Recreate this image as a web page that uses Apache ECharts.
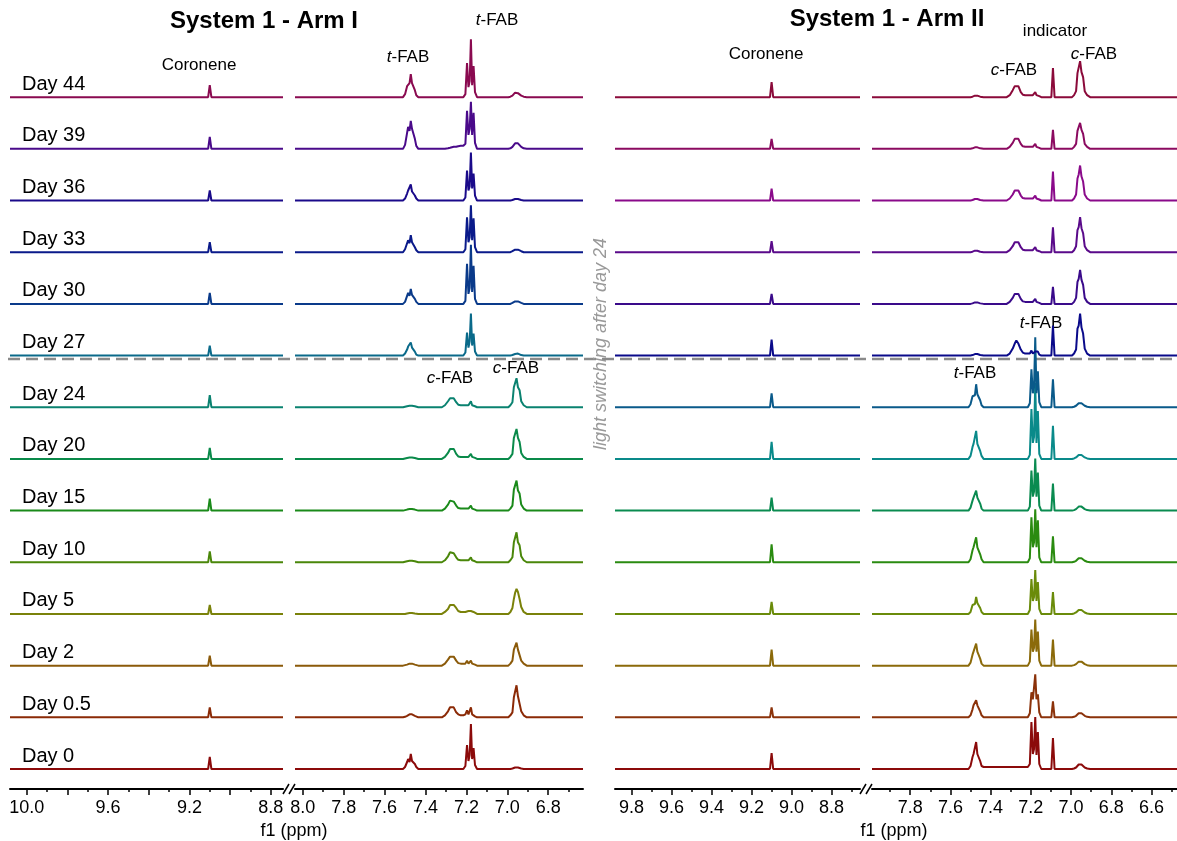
<!DOCTYPE html>
<html><head><meta charset="utf-8">
<script src="https://cdn.jsdelivr.net/npm/echarts@6/dist/echarts.min.js"></script>
<style>html,body{margin:0;padding:0;background:#fff}#c{width:1177px;height:841px}</style>
</head><body><div id="c"></div><script>
// ---------------- DATA ----------------
const DAYS = ['Day 0','Day 0.5','Day 2','Day 5','Day 10','Day 15','Day 20','Day 24','Day 27','Day 30','Day 33','Day 36','Day 39','Day 44'];

// chemical-shift grids (ppm) of each peak group
const CORONENE_PPM = [9.108, 9.100, 9.092];
const T_MULT_PPM = [7.51, 7.50, 7.49, 7.485, 7.478, 7.472, 7.466, 7.46, 7.452, 7.445, 7.435];
const MID_PPM = [7.32, 7.305, 7.29, 7.28, 7.272, 7.262, 7.25, 7.24, 7.228, 7.215, 7.205, 7.197, 7.19, 7.184, 7.178, 7.172, 7.165, 7.158, 7.148];
const INDICATOR_PPM = [7.098, 7.09, 7.082];
const C_FAB_PPM = [6.995, 6.985, 6.975, 6.968, 6.962, 6.955, 6.948, 6.94, 6.932, 6.92, 6.905];

// ---- Arm I intensities (rows follow DAYS) ----
const armI_coronene = [12,10,10,9,11,12,11,12,10,11,10,10,12,12];
const armI_tMult = [
 [0,2,7,10,7,15,8,10,5,2,0],
 [0,0.5,1.5,2.5,3,3.5,3,2.5,1.5,0.5,0],
 [0,0.5,1,1.5,2,2,2,1.5,1,0.5,0],
 [0,0,0.5,1,1,1,1,1,0.5,0,0],
 [0,0.5,1,1.5,1.5,2,1.5,1.5,1,0.5,0],
 [0,0.5,1,1.5,1.5,2,1.5,1.5,1,0.5,0],
 [0,0.5,1,1.5,1.5,2,1.5,1.5,1,0.5,0],
 [0,0.5,1,1.5,1.5,2,1.5,1.5,1,0.5,0],
 [0,2,6,9,7,13,8,9,4,1,0],
 [0,2,8,11,8,15,9,10,5,2,0],
 [0,3,9,12,9,17,10,11,5,2,0],
 [0,2,7,10,8,16,9,10,5,2,0],
 [0,4,16,22,18,28,20,22,10,3,0],
 [0,3,11,13,14,23,14,13,7,2,0]
];
const armI_mid = [
 [0,0,0,0,0,0,0,0,0, 0,3,24,8,14,45,10,21,4,0],
 [0,2,6,10,12,10,5,3,2, 2,3,7,3,4,10,3,5,1,0],
 [0,2,6,9,11,9,5,2.5,2, 2,2,5,2,3,5,2,4,1,0],
 [0,2,5,9,11,9,6,3,2, 2,2,3,3,3,3,3,2,1,0],
 [0,2,6,10,11,9,5,2.5,2, 2,2,4,2,3,5,2,4,1,0],
 [0,2,6,10,11,9,5,2.5,2, 2,2,4,2,3,5,2,4,1,0],
 [0,2,6,10,12,10,5,2.5,2, 2,2,4,2,3,5,2,4,1,0],
 [0,2,6,9,11,9,5,2.5,2, 2,2,4,2,3,6,2,4,1,0],
 [0,0,0,0,0,0,0,0,0, 0,3,23,8,14,42,10,22,4,0],
 [0,0,0,0,0,0,0,0,0, 0,3,40,10,16,59,12,38,5,0],
 [0,0,0,0,0,0,0,0,0, 0,3,35,10,15,47,12,34,5,0],
 [0,0,0,0,0,0,0,0,0, 0,3,30,10,14,48,12,27,5,0],
 [0,0,0.5,1,1.5,2,2,2.5,3, 3,5,38,14,20,47,14,36,6,0],
 [0,0,0,0,0,0,0,0,0, 0,3,34,10,16,58,12,31,5,0]
];
const armI_cfab = [
 [0,0,0.5,1,1.5,2,1.5,1,0.5,0,0],
 [0,2,5,20,22,32,21,19,6,2,0],
 [0,2,5,16,15,23,16,14,5,2,0],
 [0,2,6,15,21,25,22,15,7,2,0],
 [0,2,5,20,18,30,20,17,6,2,0],
 [0,2,5,21,19,30,20,17,6,2,0],
 [0,2,5,21,19,30,21,17,6,2,0],
 [0,2,5,20,18,29,20,17,6,2,0],
 [0,0,0.5,1,1.5,2.5,2,1,0.5,0,0],
 [0,0,1,2,2.5,3,2.5,1.5,1,0,0],
 [0,0,1,2,2.5,3,2.5,1.5,1,0,0],
 [0,0,0.5,1,1.5,2,1.5,1,0.5,0,0],
 [0,0.5,2,4,5.5,6.5,5.5,4,2,0.5,0],
 [0,0.5,1.5,3,4.5,5,4,3,1.5,0.5,0]
];

// ---- Arm II intensities ----
const armII_coronene = [16,10,16,12,18,13,17,14,16,10,11,12,10,15];
const armII_tMult = [
 [0,3,12,15,14,27,15,16,8,3,2],
 [0,2,8,12,11,17,12,12,6,2,0],
 [0,3,11,14,13,22,14,14,7,2,0],
 [0,2,9,11,10,17,11,11,6,2,0],
 [0,3,12,15,14,25,15,15,8,3,0],
 [0,3,10,13,12,20,13,13,7,2,0],
 [0,3,12,15,14,28,15,16,8,3,0],
 [0,3,11,13,12,23,13,13,7,2,0],
 [0,0,0.5,1,1.5,2,1.5,1,0.5,0,0],
 [0,0,0.5,1,1.5,2,1.5,1,0.5,0,0],
 [0,0,0.5,1,1.5,2,1.5,1,0.5,0,0],
 [0,0,0.5,1,1.5,2,1.5,1,0.5,0,0],
 [0,0,0.5,1,1.5,2,1.5,1,0.5,0,0],
 [0,0,0.5,1,1.5,2,1.5,1,0.5,0,0]
];
const armII_mid = [
 [2,2,2,2,2,2,2,2,2, 2,5,47,15,20,52,14,37,5,0],
 [0,0,0,0,0,0,0,0,0, 0,4,25,18,30,43,18,23,5,0],
 [0,0,0,0,0,0,0,0,0, 0,4,36,14,18,46,14,34,5,0],
 [0,0,0,0,0,0,0,0,0, 0,4,35,13,17,44,13,32,5,0],
 [0,0,0,0,0,0,0,0,0, 0,4,45,15,20,53,15,42,5,0],
 [0,0,0,0,0,0,0,0,0, 0,4,40,14,19,52,14,38,5,0],
 [0,0,0,0,0,0,0,0,0, 0,4,50,16,22,76,16,48,5,0],
 [0,0,0,0,0,0,0,0,0, 0,4,38,14,20,70,14,36,5,0],
 [0,2,7,12,15,12,6,3,2, 2,2,5,2,3,4,2,4,1,0],
 [0,2,6,10,12,10,5,2.5,2, 2,2,4,2,3,5,2,4,1,0],
 [0,2,6,10,12,10,5,2.5,2, 2,2,4,2,3,5,2,4,1,0],
 [0,2,6,10,12,10,5,2.5,2, 2,2,4,2,3,5,2,4,1,0],
 [0,2,6,10,12,10,5,2.5,2, 2,2,4,2,3,5,2,4,1,0],
 [0,2,7,11,13,11,5,2.5,2, 2,2,4,2,3,5,2,4,1,0]
];
const armII_indicator = [31,16,26,22,26,27,33,28,30,17,25,29,19,29];
const armII_cfab = [
 [0,0.5,1.5,3,4.5,5.5,4.5,3,1.5,0.5,0],
 [0,0.5,1.5,3,4,5,4,3,1.5,0.5,0],
 [0,0.5,1.5,3,4,5,4,3,1.5,0.5,0],
 [0,0.5,1.5,3,4,5,4,3,1.5,0.5,0],
 [0,0.5,1.5,3,4,5,4,3,1.5,0.5,0],
 [0,0.5,1.5,3,4,5,4,3,1.5,0.5,0],
 [0,0.5,1.5,3,4,5,4,3,1.5,0.5,0],
 [0,0.5,1.5,3,4,5,4,3,1.5,0.5,0],
 [0,2,6,27,30,42,28,22,7,2,0],
 [0,2,6,22,25,34,24,19,6,2,0],
 [0,2,6,22,25,35,24,19,6,2,0],
 [0,2,6,22,26,35,24,19,6,2,0],
 [0,2,5,18,20,26,19,15,5,2,0],
 [0,2,6,24,26,36,25,20,6,2,0]
];

// ---- axis ticks / labels ----
const L_A_LABELS = [10.0, 9.6, 9.2, 8.8];
const L_A_MAJOR = [10.0, 9.8, 9.6, 9.4, 9.2, 9.0, 8.8];
const L_A_MINOR = [9.9, 9.7, 9.5, 9.3, 9.1, 8.9];
const L_B_LABELS = [8.0, 7.8, 7.6, 7.4, 7.2, 7.0, 6.8];
const L_B_MINOR = [7.9, 7.7, 7.5, 7.3, 7.1, 6.9, 6.7];
const R_A_LABELS = [9.8, 9.6, 9.4, 9.2, 9.0, 8.8];
const R_A_MINOR = [9.7, 9.5, 9.3, 9.1, 8.9, 8.7];
const R_B_LABELS = [7.8, 7.6, 7.4, 7.2, 7.0, 6.8, 6.6];
const R_B_MINOR = [7.9, 7.7, 7.5, 7.3, 7.1, 6.9, 6.7, 6.5];

// ---------------- STYLE / LAYOUT ----------------
const COLORS_I = ['#8b0a0a','#8b2a06','#8b5a0a','#7a820a','#4a870a','#1a8a1a','#0a8a4a','#0a8270','#0a6a8a','#0a3a8a','#0a1a8a','#1a0a8a','#4a0a8a','#8a0a50'];
const COLORS_II = ['#8b0a0a','#8b320a','#8b6a0a','#6a8b0a','#2a8b10','#0a8b50','#0a8a8a','#0a5a8a','#0a0a8a','#3a0a8a','#5a0a8a','#8a0a8a','#8b0a60','#8b0a3a'];
const FONT = '"Liberation Sans", Arial, Helvetica, sans-serif';
const AXIS_Y = 789, ROW_GAP = 51.68, BASE0 = 20;

const segs = [
  {left:10,  width:273, min:8.74,  max:10.082, labels:L_A_LABELS, major:L_A_MAJOR, minor:L_A_MINOR},
  {left:295, width:288, min:6.63,  max:8.038,  labels:L_B_LABELS, major:L_B_LABELS, minor:L_B_MINOR},
  {left:615, width:245, min:8.658, max:9.883,  labels:R_A_LABELS, major:R_A_LABELS, minor:R_A_MINOR},
  {left:872, width:305, min:6.473, max:7.99,   labels:R_B_LABELS, major:R_B_LABELS, minor:R_B_MINOR}
];

const grid = segs.map(s => ({left:s.left, width:s.width, top:0, height:AXIS_Y, containLabel:false}));
const xAxis = [];
segs.forEach((s,g) => xAxis.push({
  gridIndex:g, type:'value', inverse:true, min:s.min, max:s.max, position:'bottom',
  axisLine:{show:true, onZero:false, lineStyle:{color:'#000', width:2}},
  axisTick:{show:true, length:6, customValues:s.major, lineStyle:{color:'#000', width:1.5}},
  axisLabel:{show:true, customValues:s.labels, formatter:v => Number(v).toFixed(1), fontSize:18, color:'#000', margin:10, fontFamily:FONT},
  splitLine:{show:false}
}));
segs.forEach((s,g) => xAxis.push({
  gridIndex:g, type:'value', inverse:true, min:s.min, max:s.max, position:'bottom',
  axisLine:{show:false, onZero:false},
  axisTick:{show:true, length:3, customValues:s.minor, lineStyle:{color:'#000', width:1.5}},
  axisLabel:{show:false}, splitLine:{show:false}
}));
const yAxis = segs.map((s,g) => ({gridIndex:g, type:'value', min:0, max:AXIS_Y, show:false}));

function pts(ppm, h, off){ return ppm.map((x,j) => [x, off + h[j]]); }
const series = [];
function addArm(armIdx, cor, tMult, mid, ind, cfab, colors){
  const gA = armIdx*2, gB = armIdx*2+1;
  DAYS.forEach((d,i) => {
    const off = BASE0 + i*ROW_GAP;
    const dataA = [[segs[gA].max, off]].concat(pts(CORONENE_PPM, [0, cor[i], 0], off), [[segs[gA].min, off]]);
    let dataB = [[segs[gB].max, off]].concat(pts(T_MULT_PPM, tMult[i], off), pts(MID_PPM, mid[i], off));
    if (ind) dataB = dataB.concat(pts(INDICATOR_PPM, [0, ind[i], 0], off));
    dataB = dataB.concat(pts(C_FAB_PPM, cfab[i], off), [[segs[gB].min, off]]);
    [[gA,dataA],[gB,dataB]].forEach(([g,data]) => series.push({
      type:'line', name:d, xAxisIndex:g, yAxisIndex:g, data:data, showSymbol:false, symbol:'none',
      smooth:false, silent:true, animation:false, clip:false,
      lineStyle:{color:colors[i], width:2}
    }));
  });
}
addArm(0, armI_coronene, armI_tMult, armI_mid, null, armI_cfab, COLORS_I);
addArm(1, armII_coronene, armII_tMult, armII_mid, armII_indicator, armII_cfab, COLORS_II);

const chart = echarts.init(document.getElementById('c'));
chart.setOption({animation:false, grid, xAxis, yAxis, series});

// ---------------- annotations ----------------
function txt(x, y, text, size, opts){
  return Object.assign({type:'text', x:x, y:y, silent:true,
    style:Object.assign({text:text, fontSize:size, fontFamily:FONT, fill:'#000', align:'center', verticalAlign:'middle',
      rich:{i:{fontStyle:'italic', fontSize:size, fontFamily:FONT, fill:'#000'}}}, opts||{})});
}
const g = [];
g.push(txt(264, 21, 'System 1 - Arm I', 24, {fontWeight:'bold'}));
g.push(txt(887, 19, 'System 1 - Arm II', 24, {fontWeight:'bold'}));
g.push(txt(199, 65, 'Coronene', 17));
g.push(txt(766, 54, 'Coronene', 17));
g.push(txt(408, 57, '{i|t}-FAB', 17));
g.push(txt(497, 20, '{i|t}-FAB', 17));
g.push(txt(450, 378, '{i|c}-FAB', 17));
g.push(txt(516, 368, '{i|c}-FAB', 17));
g.push(txt(1055, 31, 'indicator', 17));
g.push(txt(1014, 70, '{i|c}-FAB', 17));
g.push(txt(1094, 54, '{i|c}-FAB', 17));
g.push(txt(1041, 323, '{i|t}-FAB', 17));
g.push(txt(975, 373, '{i|t}-FAB', 17));
g.push(txt(294, 831, 'f1 (ppm)', 18));
g.push(txt(894, 831, 'f1 (ppm)', 18));
// day labels anchored to each spectrum's baseline
DAYS.forEach((d,i) => {
  const p = chart.convertToPixel({gridIndex:0}, [10.0, BASE0 + i*ROW_GAP]);
  g.push(txt(22, p[1] - 13, d, 20, {align:'left'}));
});
// light switching divider between Day 24 and Day 27
const yDiv = chart.convertToPixel({gridIndex:0}, [10.0, BASE0 + 7.935*ROW_GAP])[1];
g.push({type:'line', silent:true, shape:{x1:8, y1:yDiv, x2:1177, y2:yDiv},
  style:{stroke:'#8a8a8a', lineWidth:2.5, lineDash:[12,6]}});
g.push({type:'text', x:601, y:344, rotation:Math.PI/2, silent:true,
  style:{text:'light switching after day 24', fontSize:18, fontStyle:'italic', fontFamily:FONT, fill:'#999', align:'center', verticalAlign:'middle'}});
// axis break marks
[[283,289],[289,295],[860,866],[866,872]].forEach(([a,b]) => g.push({type:'line', silent:true,
  shape:{x1:a, y1:AXIS_Y+5, x2:b, y2:AXIS_Y-5}, style:{stroke:'#000', lineWidth:1.5}}));
chart.setOption({graphic:g});
</script></body></html>
